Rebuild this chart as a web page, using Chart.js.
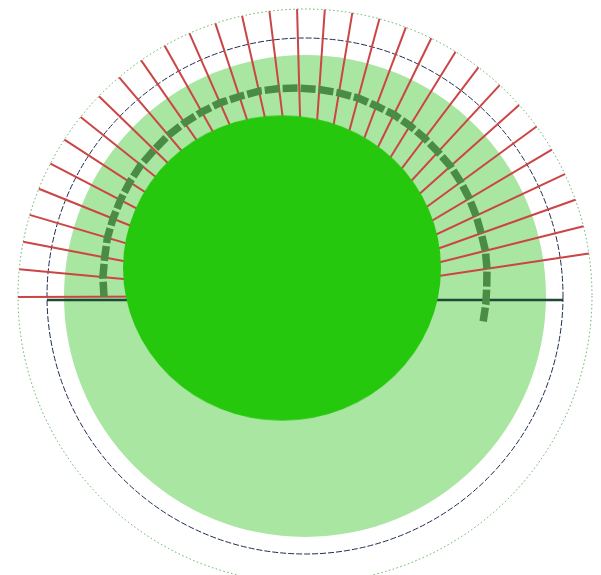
<!DOCTYPE html>
<html lang="en">
<head>
  <meta charset="UTF-8">
  <title>Dial</title>
  <script src="https://cdn.jsdelivr.net/npm/chart.js"></script>
  <style>
    html, body {
      margin: 0;
      padding: 0;
      background: #fff;
      width: 601px;
      height: 575px;
      overflow: hidden;
    }
    .layer {
      position: absolute;
      left: 0;
      top: 0;
    }
    #bar { top: 4px; }
    /* the core is a touch flatter than it is wide */
    #core { left: -23px; top: -28px; transform: scaleY(0.96); transform-origin: 305px 296px; }
  </style>
</head>
<body>
  <canvas id="disk" class="layer" width="610" height="592"></canvas>
  <canvas id="bar" class="layer" width="610" height="592"></canvas>
  <canvas id="dial" class="layer" width="610" height="592"></canvas>
  <canvas id="core" class="layer" width="610" height="592"></canvas>

  <script>
    // radii are in the same unit on every layer, outer ring = scale max
    const outerRadius = 287;
    const ringRadii = [0, 258, 287];
    const diskRadius = [241];
    const coreRadius = [159];
    const barRadius = [0, 258, 0, 258];

    // 65 spokes round the dial, the first one points left
    const spokes = [
      1, 2, 3, 4, 5, 6, 7, 8, 9, 10, 11, 12, 13, 14, 15, 16, 17, 18, 19, 20,
      21, 22, 23, 24, 25, 26, 27, 28, 29, 30, 31, 32, 33, 34, 35, 36, 37, 38, 39, 40,
      41, 42, 43, 44, 45, 46, 47, 48, 49, 50, 51, 52, 53, 54, 55, 56, 57, 58, 59, 60,
      61, 62, 63, 64, 65
    ];
    const redSpokes = [
      0, 1, 2, 3, 4, 5, 6, 7, 8, 9, 10, 11, 12, 13, 14, 15,
      16, 17, 18, 19, 20, 21, 22, 23, 24, 25, 26, 27, 28, 29, 30, 31
    ];
    // dashed arc, distance from the centre along each spoke
    const arcRadius = [
      201, 203, 204, 206, 207, 208, 209, 210, 210, 211,
      211, 211, 211, 210, 210, 209, 208, 207, 206, 205,
      203, 202, 200, 198, 196, 195, 193, 191, 189, 187,
      186, 184, 182, 181, 180,
      null, null, null, null, null, null, null, null, null, null,
      null, null, null, null, null, null, null, null, null, null,
      null, null, null, null, null, null, null, null, null, null
    ];

    function baseOptions() {
      return {
        responsive: false,
        animation: false,
        events: [],
        layout: { padding: 9 },
        plugins: { legend: { display: false }, tooltip: { enabled: false } }
      };
    }

    function hiddenScale() {
      return { display: false, min: 0, max: outerRadius, ticks: { display: false }, pointLabels: { display: false } };
    }

    // light green disk
    new Chart(document.getElementById('disk'), {
      type: 'polarArea',
      data: {
        labels: ['disk'],
        datasets: [{ data: diskRadius, backgroundColor: '#a9e6a1', borderWidth: 0 }]
      },
      options: Object.assign(baseOptions(), { scales: { r: hiddenScale() } })
    });

    // horizontal bar through the middle
    new Chart(document.getElementById('bar'), {
      type: 'radar',
      data: {
        labels: ['n', 'e', 's', 'w'],
        datasets: [{
          data: barRadius,
          borderColor: '#1f4a36',
          borderWidth: 2.5,
          fill: false,
          pointRadius: 0
        }]
      },
      options: Object.assign(baseOptions(), { scales: { r: hiddenScale() } })
    });

    // rings, red spokes and the dashed arc
    new Chart(document.getElementById('dial'), {
      type: 'radar',
      data: {
        labels: spokes,
        datasets: [{
          data: arcRadius,
          borderColor: '#4b8c44',
          borderWidth: 7.5,
          borderDash: [15, 3],
          fill: false,
          spanGaps: false,
          pointRadius: 0
        }]
      },
      options: Object.assign(baseOptions(), {
        scales: {
          r: {
            min: 0,
            max: outerRadius,
            startAngle: -90.2,
            ticks: { display: false },
            pointLabels: { display: false },
            afterBuildTicks: s => { s.ticks = ringRadii.map(v => ({ value: v })); },
            grid: {
              circular: true,
              lineWidth: 1,
              color: c => c.tick && c.tick.value === outerRadius ? 'rgba(80,165,80,0.9)' : '#1d2c4c'
            },
            border: {
              dash: c => c.tick && c.tick.value === outerRadius ? [1.5, 2.5] : [6, 2]
            },
            angleLines: {
              display: true,
              lineWidth: 2,
              color: c => redSpokes.includes(c.index) ? '#cc4545' : 'rgba(0,0,0,0)'
            }
          }
        }
      })
    });

    // dark green core, a little off centre
    new Chart(document.getElementById('core'), {
      type: 'polarArea',
      data: {
        labels: ['core'],
        datasets: [{ data: coreRadius, backgroundColor: '#25c80c', borderWidth: 0 }]
      },
      options: Object.assign(baseOptions(), { scales: { r: hiddenScale() } })
    });
  </script>
</body>
</html>
